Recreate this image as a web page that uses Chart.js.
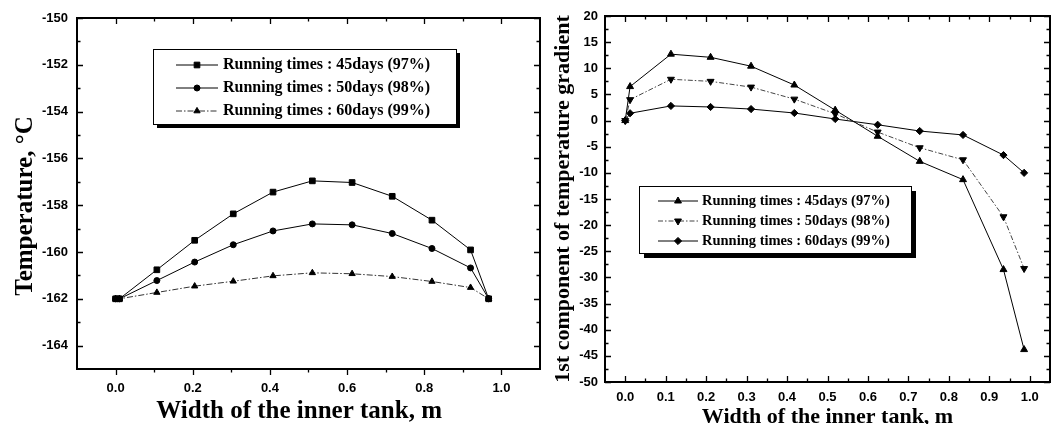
<!DOCTYPE html>
<html>
<head>
<meta charset="utf-8">
<script src="https://cdn.jsdelivr.net/npm/chart.js@4.4.1/dist/chart.umd.min.js"></script>
<style>
  html, body { margin: 0; padding: 0; background: #fff; }
  #wrap { position: relative; width: 1064px; height: 424px; overflow: hidden; background: #fff; }
  canvas { position: absolute; top: 0; }
  #left { left: 0; }
  #right { left: 550px; }
</style>
</head>
<body>
<div id="wrap">
  <canvas id="left" width="550" height="424"></canvas>
  <canvas id="right" width="514" height="424"></canvas>
</div>
<script>
// ---------- Left panel data: temperature ----------
const seriesLabels = ['Running times : 45days (97%)', 'Running times : 50days (98%)', 'Running times : 60days (99%)'];
const widthLeft = [0, 0.01, 0.107, 0.205, 0.305, 0.408, 0.51, 0.613, 0.717, 0.82, 0.92, 0.967];
const temp45 = [-162, -162, -160.76, -159.5, -158.37, -157.44, -156.96, -157.03, -157.62, -158.64, -159.91, -162];
const temp50 = [-162, -162, -161.22, -160.43, -159.69, -159.1, -158.8, -158.84, -159.21, -159.85, -160.68, -162];
const temp60 = [-162, -162, -161.73, -161.46, -161.25, -161.02, -160.89, -160.93, -161.05, -161.26, -161.52, -162];
const leftXTicks = [0, 0.2, 0.4, 0.6, 0.8, 1.0];
const leftXMinor = [0.1, 0.3, 0.5, 0.7, 0.9];
const leftYTicks = [-164, -162, -160, -158, -156, -154, -152, -150];
const leftYMinor = [-163, -161, -159, -157, -155, -153, -151];

// ---------- Right panel data: 1st component of temperature gradient ----------
const widthRight = [0, 0.012, 0.113, 0.211, 0.311, 0.418, 0.519, 0.624, 0.728, 0.835, 0.935, 0.986];
const grad45 = [0, 6.5, 12.7, 12.1, 10.4, 6.8, 2.0, -3.0, -7.8, -11.3, -28.5, -43.8];
const grad50 = [0, 4.0, 7.9, 7.5, 6.4, 4.1, 1.3, -2.2, -5.2, -7.5, -18.4, -28.3];
const grad60 = [0, 1.4, 2.8, 2.6, 2.2, 1.45, 0.3, -0.8, -2.0, -2.75, -6.6, -10.0];
const rightXTicks = [0, 0.1, 0.2, 0.3, 0.4, 0.5, 0.6, 0.7, 0.8, 0.9, 1.0];
const rightXMinor = [0.05, 0.15, 0.25, 0.35, 0.45, 0.55, 0.65, 0.75, 0.85, 0.95];
const rightYTicks = [-50, -45, -40, -35, -30, -25, -20, -15, -10, -5, 0, 5, 10, 15, 20];
const rightYMinor = [-47.5, -42.5, -37.5, -32.5, -27.5, -22.5, -17.5, -12.5, -7.5, -2.5, 2.5, 7.5, 12.5, 17.5];

const SERIF = '"Liberation Serif", "Times New Roman", serif';
const SANS = '"Liberation Sans", Arial, sans-serif';

function pts(xs, ys) { return xs.map((x, i) => ({ x: x, y: ys[i] })); }

function drawMarker(ctx, style, r, rot, x, y) {
  ctx.beginPath();
  if (style === 'rect') {
    const s = r * Math.SQRT1_2;
    ctx.rect(x - s, y - s, 2 * s, 2 * s);
  } else if (style === 'circle') {
    ctx.arc(x, y, r, 0, Math.PI * 2);
  } else if (style === 'triangle') {
    let a = (rot || 0) * Math.PI / 180;
    for (let k = 0; k < 3; k++) {
      const px = x + Math.sin(a) * r, py = y - Math.cos(a) * r;
      if (k === 0) ctx.moveTo(px, py); else ctx.lineTo(px, py);
      a += 2 * Math.PI / 3;
    }
    ctx.closePath();
  } else if (style === 'rectRot') {
    ctx.moveTo(x - r, y); ctx.lineTo(x, y - r); ctx.lineTo(x + r, y); ctx.lineTo(x, y + r);
    ctx.closePath();
  }
  ctx.fill();
  ctx.stroke();
}

const framePlugin = {
  id: 'frame',
  afterDatasetsDraw(chart, args, o) {
    const { ctx, chartArea: a } = chart;
    const xs = chart.scales.x, ys = chart.scales.y;
    ctx.save();
    ctx.strokeStyle = '#000';
    ctx.lineWidth = 1.3;
    ctx.setLineDash([]);
    const xT = (vals, len) => vals.forEach(v => {
      const p = Math.round(xs.getPixelForValue(v)) + 0.5;
      ctx.beginPath();
      if (o.bottomOut) { ctx.moveTo(p, a.bottom); ctx.lineTo(p, a.bottom + len); }
      else { ctx.moveTo(p, a.bottom); ctx.lineTo(p, a.bottom - len); }
      ctx.moveTo(p, a.top); ctx.lineTo(p, a.top + len);
      ctx.stroke();
    });
    const yT = (vals, len) => vals.forEach(v => {
      const p = Math.round(ys.getPixelForValue(v)) + 0.5;
      ctx.beginPath();
      ctx.moveTo(a.left, p); ctx.lineTo(a.left + len, p);
      ctx.moveTo(a.right, p); ctx.lineTo(a.right - len, p);
      ctx.stroke();
    });
    xT(o.xMajor, 6); xT(o.xMinor, 3.5);
    yT(o.yMajor, 6); yT(o.yMinor, 3.5);
    ctx.lineWidth = 2;
    ctx.strokeRect(a.left, a.top, a.right - a.left, a.bottom - a.top);
    ctx.restore();
  }
};

const legendPlugin = {
  id: 'boxLegend',
  afterDraw(chart, args, o) {
    const ctx = chart.ctx;
    ctx.save();
    ctx.fillStyle = '#000';
    ctx.fillRect(o.x + o.shadow, o.y + o.shadow, o.w, o.h);
    ctx.fillStyle = '#fff';
    ctx.fillRect(o.x, o.y, o.w, o.h);
    ctx.strokeStyle = '#000';
    ctx.lineWidth = 1;
    ctx.strokeRect(o.x + 0.5, o.y + 0.5, o.w, o.h);
    chart.data.datasets.forEach((ds, i) => {
      const yy = o.rows[i];
      ctx.strokeStyle = ds.borderColor;
      ctx.lineWidth = 1;
      ctx.setLineDash(ds.borderDash || []);
      ctx.beginPath(); ctx.moveTo(o.x1, yy); ctx.lineTo(o.x2, yy); ctx.stroke();
      ctx.setLineDash([]);
      ctx.fillStyle = '#000'; ctx.strokeStyle = '#000';
      drawMarker(ctx, ds.pointStyle, ds.pointRadius, ds.pointRotation, (o.x1 + o.x2) / 2, yy);
      ctx.fillStyle = '#000';
      ctx.font = o.font;
      ctx.textBaseline = 'middle';
      ctx.textAlign = 'left';
      ctx.fillText(ds.label, o.textX, yy);
    });
    ctx.restore();
  }
};

function ds(label, xs, ys, style, r, rot, dash, color) {
  return {
    label: label, data: pts(xs, ys),
    borderColor: color || '#000', borderWidth: 1, borderDash: dash || [],
    pointStyle: style, pointRadius: r, pointRotation: rot || 0,
    pointBackgroundColor: '#000', pointBorderColor: '#000', pointBorderWidth: 1,
    pointHoverRadius: r, tension: 0, fill: false
  };
}

function setTicks(list) {
  return function (scale) { scale.ticks = list.map(v => ({ value: v })); };
}

// ---------- Left chart ----------
new Chart(document.getElementById('left'), {
  type: 'line',
  data: {
    datasets: [
      ds(seriesLabels[0], widthLeft, temp45, 'rect', 4.0, 0, []),
      ds(seriesLabels[1], widthLeft, temp50, 'circle', 3.0, 0, []),
      ds(seriesLabels[2], widthLeft, temp60, 'triangle', 3.6, 0, [6, 2, 1.5, 2], '#333')
    ]
  },
  options: {
    responsive: false, animation: false, devicePixelRatio: 1,
    layout: { padding: { left: 0, top: 18, right: 10, bottom: 0 } },
    plugins: {
      legend: { display: false }, tooltip: { enabled: false },
      frame: { xMajor: leftXTicks, xMinor: leftXMinor, yMajor: leftYTicks, yMinor: leftYMinor, bottomOut: true },
      boxLegend: { x: 153, y: 49, w: 303, h: 75, shadow: 4, rows: [65, 88, 111], x1: 176, x2: 218, textX: 223,
                   font: 'bold 16px ' + SERIF }
    },
    scales: {
      x: {
        type: 'linear', min: -0.1, max: 1.1,
        grid: { display: false, drawTicks: false }, border: { display: false },
        afterBuildTicks: setTicks(leftXTicks),
        afterFit: s => { s.height = 55; },
        ticks: { color: '#000', padding: 12, font: { family: SANS, size: 13, weight: 'bold' }, maxRotation: 0,
                 callback: v => Number(v).toFixed(1) },
        title: { display: true, text: 'Width of the inner tank, m   ', color: '#000',
                 font: { family: SERIF, size: 25, weight: 'bold', lineHeight: 1 }, padding: { top: 0, bottom: 0 } }
      },
      y: {
        type: 'linear', min: -165, max: -150,
        grid: { display: false, drawTicks: false }, border: { display: false },
        afterBuildTicks: setTicks(leftYTicks),
        afterFit: s => { s.width = 77; },
        ticks: { color: '#000', padding: 9, font: { family: SANS, size: 13, weight: 'bold' } },
        title: { display: true, text: 'Temperature, \u00B0C    ', color: '#000',
                 font: { family: SERIF, size: 25, weight: 'bold', lineHeight: 1 }, padding: { top: 13, bottom: 0 } }
      }
    }
  },
  plugins: [framePlugin, legendPlugin]
});

// ---------- Right chart ----------
new Chart(document.getElementById('right'), {
  type: 'line',
  data: {
    datasets: [
      ds(seriesLabels[0], widthRight, grad45, 'triangle', 4.0, 0, []),
      ds(seriesLabels[1], widthRight, grad50, 'triangle', 4.0, 180, [5, 2, 1.5, 2], '#444'),
      ds(seriesLabels[2], widthRight, grad60, 'rectRot', 3.6, 0, [])
    ]
  },
  options: {
    responsive: false, animation: false, devicePixelRatio: 1,
    layout: { padding: { left: 0, top: 16, right: 14, bottom: 0 } },
    plugins: {
      legend: { display: false }, tooltip: { enabled: false },
      frame: { xMajor: rightXTicks, xMinor: rightXMinor, yMajor: rightYTicks, yMinor: rightYMinor, bottomOut: false },
      boxLegend: { x: 89, y: 186, w: 272, h: 67, shadow: 5, rows: [201, 221, 241], x1: 108, x2: 148, textX: 152,
                   font: 'bold 14.5px ' + SERIF }
    },
    scales: {
      x: {
        type: 'linear', min: -0.05, max: 1.05,
        grid: { display: false, drawTicks: false }, border: { display: false },
        afterBuildTicks: setTicks(rightXTicks),
        afterFit: s => { s.height = 42; },
        ticks: { color: '#000', padding: 8, font: { family: SANS, size: 13, weight: 'bold' }, maxRotation: 0, autoSkip: false,
                 callback: v => Number(v).toFixed(1) },
        title: { display: true, text: 'Width of the inner tank, m', color: '#000',
                 font: { family: SERIF, size: 22, weight: 'bold', lineHeight: 0.6 }, padding: { top: 0, bottom: 0 } }
      },
      y: {
        type: 'linear', min: -50, max: 20,
        grid: { display: false, drawTicks: false }, border: { display: false },
        afterBuildTicks: setTicks(rightYTicks),
        afterFit: s => { s.width = 55; },
        ticks: { color: '#000', padding: 7, font: { family: SANS, size: 13, weight: 'bold' }, autoSkip: false },
        title: { display: true, text: '1st component of temperature gradient', color: '#000',
                 font: { family: SERIF, size: 22, weight: 'bold', lineHeight: 1 }, padding: { top: 2, bottom: 0 } }
      }
    }
  },
  plugins: [framePlugin, legendPlugin]
});
</script>
</body>
</html>
